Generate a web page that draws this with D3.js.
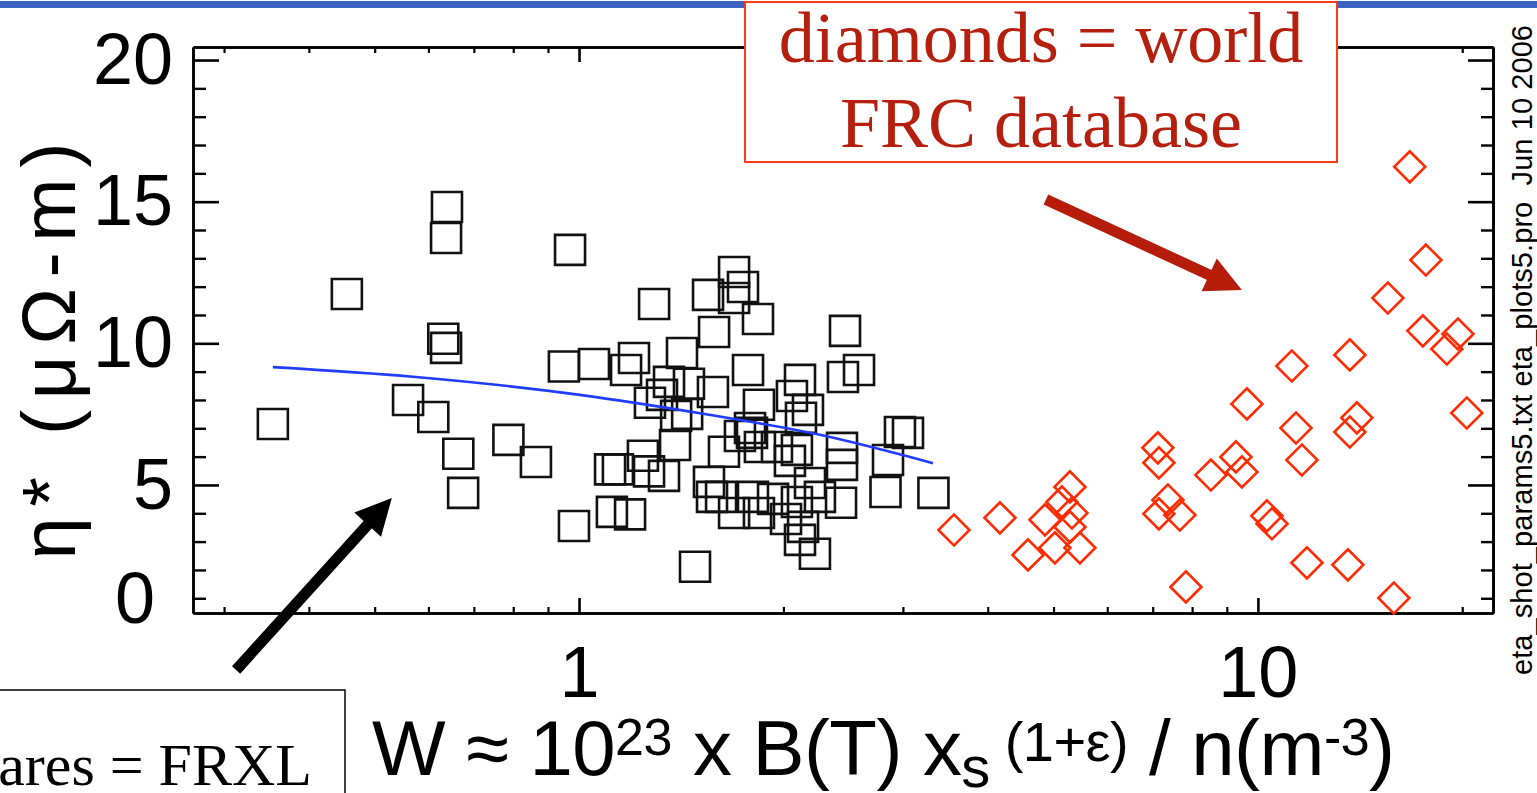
<!DOCTYPE html>
<html>
<head>
<meta charset="utf-8">
<script src="https://cdn.jsdelivr.net/npm/d3@7"></script>
<style>
  body { margin: 0; background: #fff; }
  svg { display: block; }
  text { white-space: pre; }
</style>
</head>
<body>
<svg id="chart" width="1537" height="793"></svg>
<script>
// FRXL shots (squares): W and eta*
var frxlW = [0.354, 0.455, 0.639, 0.637, 0.631, 0.637, 0.560, 0.610, 0.664, 0.675,
  0.787, 0.864, 0.950, 0.983, 0.970, 1.290, 1.692, 1.744, 1.549, 1.692,
  1.835, 1.581, 2.465, 1.418, 1.052, 1.205, 1.173, 1.774, 2.585, 2.448,
  2.116, 2.059, 1.357, 1.325, 1.272, 1.452, 1.575, 1.841, 2.123, 2.174,
  1.390, 1.443, 1.786, 1.798, 1.726, 1.385, 1.242, 1.111, 1.141, 1.268,
  1.334, 1.635, 1.847, 1.957, 2.045, 2.094, 2.440, 2.440, 2.852, 2.970,
  3.052, 2.828, 3.327, 1.554, 1.570, 1.619, 1.692, 1.841, 1.804, 1.931,
  2.094, 2.189, 2.264, 2.432, 2.018, 2.116, 2.226, 2.138, 1.482, 1.118, 1.189];
var frxlEta = [7.15, 11.74, 14.81, 13.72, 10.16, 9.84, 8.00, 7.40, 6.10, 4.72,
  6.59, 5.81, 9.18, 3.55, 13.30, 11.39, 12.52, 11.99, 11.71, 11.60,
  10.86, 10.40, 10.44, 9.66, 9.27, 9.48, 9.06, 9.06, 9.06, 8.81,
  8.71, 8.14, 8.64, 8.18, 7.90, 8.57, 8.28, 7.83, 7.37, 7.65,
  7.44, 7.51, 7.01, 6.84, 6.73, 6.41, 6.03, 5.55, 5.55, 5.48,
  5.32, 6.17, 6.34, 6.34, 5.85, 6.24, 6.31, 5.71, 5.88, 6.87,
  6.84, 4.75, 4.72, 5.11, 4.58, 4.58, 4.01, 4.01, 4.58, 4.51,
  4.40, 5.07, 4.58, 4.37, 3.80, 3.06, 2.57, 3.52, 2.11, 4.05, 3.96];

// world FRC database (diamonds)
var frcW = [3.567, 4.169, 4.585, 4.857, 5.023, 5.144, 5.286, 5.322, 5.286, 5.468,
  7.123, 7.148, 7.370, 7.148, 7.675, 7.834, 8.527, 9.282, 9.472, 9.634,
  10.31, 10.49, 11.22, 11.38, 11.61, 11.81, 13.66, 13.99, 13.66, 13.57,
  15.86, 15.54, 16.74, 17.68, 17.50, 18.98, 19.71, 20.31];
var frcEta = [3.41, 3.84, 2.53, 3.77, 2.78, 4.40, 4.93, 4.01, 3.52, 2.78,
  6.31, 5.78, 4.47, 3.98, 3.94, 1.40, 5.35, 5.99, 5.46, 7.86,
  3.91, 3.63, 9.20, 7.01, 5.88, 2.25, 9.59, 7.37, 6.87, 2.18,
  1.01, 11.60, 16.23, 12.94, 10.44, 9.80, 10.33, 7.54];

// blue fit curve through the FRXL points
var fitW = [0.354, 0.569, 1.003, 1.507, 2.264, 3.322];
var fitEta = [9.16, 8.82, 8.18, 7.53, 6.77, 5.77];

var xDomain = [0.27, 22.2];
var yDomain = [0.48, 20.46];
var xMajor = [1, 10];
var xMinor = [0.3, 0.4, 0.5, 0.6, 0.7, 0.8, 0.9, 2, 3, 4, 5, 6, 7, 8, 9, 20];
var yMajor = [0, 5, 10, 15, 20];
var yMinor = [1, 2, 3, 4, 6, 7, 8, 9, 11, 12, 13, 14, 16, 17, 18, 19];

// annotation arrows, in data units
var redArrow = {from: [4.873, 15.08], to: [9.472, 11.88]};
var blackArrow = {from: [0.3125, -1.53], to: [0.530, 4.54]};

var svg = d3.select("#chart");
var W = 1537, H = 793;
var margin = {top: 47, right: 44, bottom: 180, left: 193};
var x0 = margin.left, x1 = W - margin.right;
var y0 = margin.top, y1 = H - margin.bottom;

var x = d3.scaleLog().domain(xDomain).range([x0, x1]);
var y = d3.scaleLinear().domain(yDomain).range([y1, y0]);

var sans = "'Liberation Sans', Arial, Helvetica, sans-serif";
var serif = "'Liberation Serif', 'Times New Roman', serif";

svg.append("rect").attr("width", W).attr("height", H).attr("fill", "#fff");
// blue slide band at the very top
svg.append("rect").attr("x", 0).attr("y", 1).attr("width", W).attr("height", 7)
  .attr("fill", "#3c62c2");

function styleAxis(g, w) {
  g.select(".domain").attr("stroke", "#000").attr("stroke-width", 2.6);
  g.selectAll(".tick line").attr("stroke", "#000").attr("stroke-width", w);
  g.selectAll(".tick text").attr("fill", "#000");
  g.attr("font-family", sans);
}

// left axis
var gl = svg.append("g").attr("transform", "translate(" + x0 + ",0)");
gl.call(d3.axisLeft(y).tickValues(yMinor).tickSizeInner(-13).tickSizeOuter(0).tickFormat(""));
styleAxis(gl, 2.4);
var glm = svg.append("g").attr("transform", "translate(" + x0 + ",0)");
glm.call(d3.axisLeft(y).tickValues(yMajor).tickSizeInner(-26).tickSizeOuter(0).tickPadding(20));
styleAxis(glm, 2.6);
glm.attr("font-size", 72);
glm.selectAll(".tick").filter(function(d) { return d === 0; })
  .attr("transform", "translate(-18," + (y1 - 13) + ")")
  .select("line").remove();

// right axis
var gr = svg.append("g").attr("transform", "translate(" + x1 + ",0)");
gr.call(d3.axisRight(y).tickValues(yMinor).tickSizeInner(-12).tickSizeOuter(0).tickFormat(""));
styleAxis(gr, 2.4);
var grm = svg.append("g").attr("transform", "translate(" + x1 + ",0)");
grm.call(d3.axisRight(y).tickValues(yMajor.filter(function(v) { return v > yDomain[0]; }))
  .tickSizeInner(-25).tickSizeOuter(0).tickFormat(""));
styleAxis(grm, 2.6);

// bottom axis
var gb = svg.append("g").attr("transform", "translate(0," + y1 + ")");
gb.call(d3.axisBottom(x).tickValues(xMinor).tickSizeInner(-6).tickSizeOuter(0).tickFormat(""));
styleAxis(gb, 2.2);
var gbm = svg.append("g").attr("transform", "translate(0," + y1 + ")");
gbm.call(d3.axisBottom(x).tickValues(xMajor).tickSizeInner(-15).tickSizeOuter(0)
  .tickPadding(33).tickFormat(d3.format("d")));
styleAxis(gbm, 2.6);
gbm.attr("font-size", 72);

// top axis
var gt = svg.append("g").attr("transform", "translate(0," + y0 + ")");
gt.call(d3.axisTop(x).tickValues(xMinor).tickSizeInner(-6).tickSizeOuter(0).tickFormat(""));
styleAxis(gt, 2.2);
var gtm = svg.append("g").attr("transform", "translate(0," + y0 + ")");
gtm.call(d3.axisTop(x).tickValues(xMajor).tickSizeInner(-15).tickSizeOuter(0).tickFormat(""));
styleAxis(gtm, 2.6);

// squares
var frxl = frxlW.map(function(w, i) { return [w, frxlEta[i]]; });
var sq = d3.symbol(d3.symbolSquare, 900);
svg.append("g").selectAll("path").data(frxl).enter().append("path")
  .attr("d", sq)
  .attr("transform", function(d) { return "translate(" + x(d[0]) + "," + y(d[1]) + ")"; })
  .attr("fill", "none").attr("stroke", "#111").attr("stroke-width", 2.6);

// diamonds
var frc = frcW.map(function(w, i) { return [w, frcEta[i]]; });
var dm = d3.symbol(d3.symbolSquare, 480);
svg.append("g").selectAll("path").data(frc).enter().append("path")
  .attr("d", dm)
  .attr("transform", function(d) { return "translate(" + x(d[0]) + "," + y(d[1]) + ") rotate(45)"; })
  .attr("fill", "none").attr("stroke", "#ff2a00").attr("stroke-width", 2.6);

// fit line
var fit = fitW.map(function(w, i) { return [w, fitEta[i]]; });
var line = d3.line().curve(d3.curveMonotoneX)
  .x(function(d) { return x(d[0]); })
  .y(function(d) { return y(d[1]); });
svg.append("path").datum(fit).attr("d", line)
  .attr("fill", "none").attr("stroke", "#1f3cff").attr("stroke-width", 2.6);

// axis titles
var xt = svg.append("text").attr("x", 372).attr("y", 775)
  .attr("font-family", sans).attr("font-size", 78).attr("fill", "#000")
  .attr("textLength", 1023).attr("lengthAdjust", "spacing");
xt.append("tspan").text("W \u2248 10");
xt.append("tspan").attr("font-size", 52).attr("dy", -20).text("23");
xt.append("tspan").attr("dy", 20).text(" x B(T) x");
xt.append("tspan").attr("font-size", 58).attr("dy", 12).text("s");
xt.append("tspan").attr("font-size", 56).attr("dy", -26).text(" (1+\u03b5)");
xt.append("tspan").attr("dy", 14).text(" / n(m");
xt.append("tspan").attr("font-size", 52).attr("dy", -20).text("-3");
xt.append("tspan").attr("dy", 20).text(")");

svg.append("text")
  .attr("transform", "translate(75,351) rotate(-90)")
  .attr("text-anchor", "middle")
  .attr("font-family", sans).attr("font-size", 76).attr("fill", "#000")
  .attr("textLength", 417).attr("lengthAdjust", "spacing")
  .text("\u03b7* (\u03bc\u03a9-m)");

svg.append("text")
  .attr("transform", "translate(1532,675) rotate(-90)")
  .attr("font-family", sans).attr("font-size", 29).attr("fill", "#000")
  .attr("textLength", 650).attr("lengthAdjust", "spacing")
  .text("eta_shot_params5.txt eta_plots5.pro  Jun 10 2006");

// arrows
function arrow(a, color) {
  var s = [x(a.from[0]), y(a.from[1])], t = [x(a.to[0]), y(a.to[1])];
  var dx = t[0] - s[0], dy = t[1] - s[1], len = Math.hypot(dx, dy);
  var ux = dx / len, uy = dy / len, nx = -uy, ny = ux;
  var hl = 36, hw = 18;
  var bx = t[0] - hl * ux, by = t[1] - hl * uy;
  svg.append("line")
    .attr("x1", s[0]).attr("y1", s[1]).attr("x2", bx + 2 * ux).attr("y2", by + 2 * uy)
    .attr("stroke", color).attr("stroke-width", 11);
  svg.append("path")
    .attr("d", "M" + t[0] + "," + t[1] + "L" + (bx + hw * nx) + "," + (by + hw * ny) +
      "L" + (bx - hw * nx) + "," + (by - hw * ny) + "Z")
    .attr("fill", color);
}
arrow(redArrow, "#b51c0a");
arrow(blackArrow, "#000");

// legend boxes
svg.append("rect").attr("x", 745).attr("y", 2).attr("width", 592).attr("height", 160)
  .attr("fill", "#fff").attr("stroke", "#ff3a1a").attr("stroke-width", 2);
svg.append("text").attr("x", 1041).attr("y", 62).attr("text-anchor", "middle")
  .attr("font-family", serif).attr("font-size", 72).attr("fill", "#b5200e")
  .text("diamonds = world");
svg.append("text").attr("x", 1041).attr("y", 147).attr("text-anchor", "middle")
  .attr("font-family", serif).attr("font-size", 72).attr("fill", "#b5200e")
  .text("FRC database");

svg.append("rect").attr("x", -5).attr("y", 690).attr("width", 350).attr("height", 120)
  .attr("fill", "#fff").attr("stroke", "#000").attr("stroke-width", 1.5);
svg.append("text").attr("x", 312).attr("y", 785).attr("text-anchor", "end")
  .attr("font-family", serif).attr("font-size", 60).attr("fill", "#000")
  .text("squares = FRXL");
</script>
</body>
</html>
